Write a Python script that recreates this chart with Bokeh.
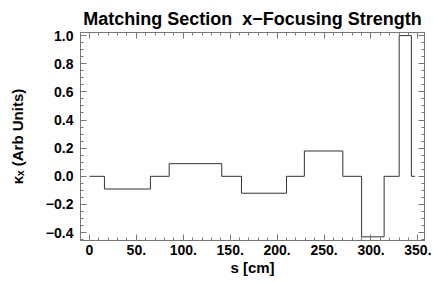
from bokeh.plotting import figure
from bokeh.models import Range1d, LinearAxis, SingleIntervalTicker, CustomJSTickFormatter
from bokeh.embed import file_html
from bokeh.resources import INLINE

# Data: step edges (cm) and x-focusing strength held from each edge to the next
s_edges = [0, 16, 65, 85, 141, 162, 210, 229, 270, 290, 314, 330, 343, 347]
kx = [0, -0.09, 0, 0.09, 0, -0.12, 0, 0.18, 0, -0.43, 0, 1.0, 0, 0]

title_text = "Matching Section\u00a0\u00a0x\u2212Focusing Strength"
x_label = "s [cm]"
y_label = "\u03baₓ (Arb Units)"

FONT = "Liberation Sans"
FRAME = "#777777"

p = figure(width=432, height=278, output_backend="svg", toolbar_location=None,
           x_range=Range1d(-9.5, 357), y_range=Range1d(-0.456, 1.022),
           min_border_left=80, min_border_right=8, min_border_top=32, min_border_bottom=36,
           x_axis_location=None, y_axis_location=None)

p.title.text = title_text
p.title.text_font = FONT
p.title.text_font_style = "bold"
p.title.text_font_size = "18px"
p.title.text_color = "black"
p.title.align = "center"
p.title.offset = 0
p.title.standoff = 8

p.grid.visible = False
p.outline_line_color = FRAME
p.outline_line_width = 1
p.background_fill_color = "white"
p.border_fill_color = "white"

xfmt = CustomJSTickFormatter(code="return Math.abs(tick) < 1e-9 ? '0' : tick.toFixed(0) + '.';")
yfmt = CustomJSTickFormatter(code="var v = Math.abs(tick) < 1e-9 ? 0 : tick; return v.toFixed(1).replace('-', '\u2212');")
blank = CustomJSTickFormatter(code="return '';")


def style_axis(ax, show_labels):
    ax.axis_line_color = FRAME
    ax.major_tick_line_color = FRAME
    ax.minor_tick_line_color = FRAME
    ax.major_tick_in = 6
    ax.major_tick_out = 0
    ax.minor_tick_in = 3
    ax.minor_tick_out = 0
    ax.major_label_text_font = FONT
    ax.major_label_text_font_style = "bold"
    ax.major_label_text_font_size = "14px"
    ax.major_label_text_color = "black"
    if show_labels:
        ax.axis_label_text_font = FONT
        ax.axis_label_text_font_style = "bold"
        ax.axis_label_text_font_size = "15px"
        ax.axis_label_text_color = "black"
    else:
        ax.major_label_standoff = 0
        ax.axis_label = None


xb = LinearAxis(ticker=SingleIntervalTicker(interval=50, num_minor_ticks=5), formatter=xfmt,
                axis_label=x_label)
style_axis(xb, True)
xb.major_label_standoff = 4
xb.axis_label_standoff = 1
p.add_layout(xb, "below")

yl = LinearAxis(ticker=SingleIntervalTicker(interval=0.2, num_minor_ticks=4), formatter=yfmt,
                axis_label=y_label)
style_axis(yl, True)
yl.major_label_standoff = 7
yl.axis_label_standoff = 17
p.add_layout(yl, "left")

xt = LinearAxis(ticker=SingleIntervalTicker(interval=50, num_minor_ticks=5), formatter=blank)
style_axis(xt, False)
p.add_layout(xt, "above")

yr = LinearAxis(ticker=SingleIntervalTicker(interval=0.2, num_minor_ticks=4), formatter=blank)
style_axis(yr, False)
p.add_layout(yr, "right")

p.step(s_edges, kx, mode="after", line_color="#333333", line_width=1)

open("out.html", "w").write(file_html(p, INLINE))
